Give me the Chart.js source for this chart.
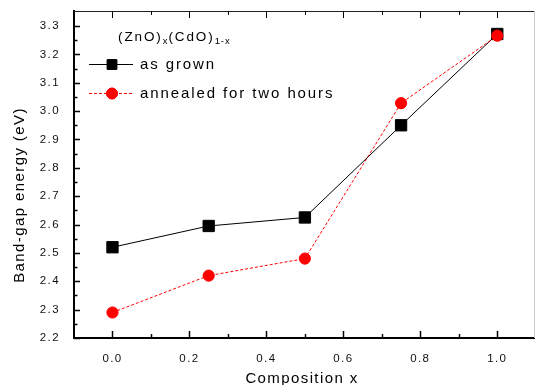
<!DOCTYPE html>
<html><head><meta charset="utf-8">
<script src="https://cdn.jsdelivr.net/npm/chart.js@4.4.1/dist/chart.umd.min.js"></script>
<style>html,body{margin:0;padding:0;background:#fff;overflow:hidden}</style>
</head><body>
<canvas id="c" width="535" height="385"></canvas>
<script>
// ---- data ----
const compositions = [0, 0.25, 0.5, 0.75, 1.0];
const asGrown = [2.52, 2.595, 2.625, 2.95, 3.272];
const annealed = [2.29, 2.42, 2.48, 3.028, 3.266];
const xTickValues = [0, 0.2, 0.4, 0.6, 0.8, 1.0];
const yTickValues = [2.2, 2.3, 2.4, 2.5, 2.6, 2.7, 2.8, 2.9, 3.0, 3.1, 3.2, 3.3];
const seriesNames = ['as grown', 'annealed for two hours'];
const xTitle = 'Composition x';
const yTitle = 'Band-gap energy (eV)';
const legendTitleParts = [['(ZnO)', false], ['x', true], ['(CdO)', false], ['1-x', true]];

const FONT = 'Arial, "Liberation Sans", Helvetica, sans-serif';
Chart.defaults.font.family = FONT;

const toPts = (xs, ys) => xs.map((x, i) => ({x: x, y: ys[i]}));

const decor = {
  id: 'decor',
  beforeDraw(chart) {
    chart.ctx.letterSpacing = '1.4px';
  },
  beforeDatasetsDraw(chart) {
    const ctx = chart.ctx, a = chart.chartArea;
    const xs = chart.scales.x, ys = chart.scales.y;
    ctx.save();
    ctx.strokeStyle = '#222'; ctx.lineWidth = 1;
    ctx.beginPath(); ctx.moveTo(a.left, a.top + 0.5); ctx.lineTo(a.right, a.top + 0.5); ctx.stroke();
    ctx.strokeStyle = '#ccc';
    ctx.beginPath(); ctx.moveTo(a.right - 0.5, a.top); ctx.lineTo(a.right - 0.5, a.bottom); ctx.stroke();
    ctx.strokeStyle = '#000';
    for (let i = 0; i <= 10; i++) {
      const v = i / 10;
      const px = Math.round(xs.getPixelForValue(v)) + 0.5;
      const len = (i % 2 === 0) ? 7 : 4;
      ctx.lineWidth = 1.5;
      ctx.beginPath(); ctx.moveTo(px, a.bottom); ctx.lineTo(px, a.bottom - len); ctx.stroke();
      ctx.lineWidth = 1;
      ctx.beginPath(); ctx.moveTo(px, a.top); ctx.lineTo(px, a.top + len); ctx.stroke();
    }
    ctx.lineWidth = 1.5;
    for (let i = 0; i <= 22; i++) {
      const v = 2.2 + i * 0.05;
      const py = Math.round(ys.getPixelForValue(v)) + 0.5;
      const len = (i % 2 === 0) ? 6 : 3.5;
      ctx.beginPath(); ctx.moveTo(a.left, py); ctx.lineTo(a.left + len, py); ctx.stroke();
    }
    ctx.restore();
  },
  afterDraw(chart) {
    const ctx = chart.ctx;
    const ds = chart.data.datasets;
    ctx.save();
    ctx.fillStyle = '#000';
    ctx.font = '15px ' + FONT;
    ctx.letterSpacing = '1.4px';
    ctx.textAlign = 'center';
    ctx.textBaseline = 'alphabetic';
    ctx.fillText(xTitle, 302, 382.5);
    ctx.save();
    ctx.translate(23.5, 195);
    ctx.rotate(-Math.PI / 2);
    ctx.fillText(yTitle, 0, 0);
    ctx.restore();
    ctx.textAlign = 'left';
    let x = 118;
    for (const [t, sub] of legendTitleParts) {
      ctx.font = (sub ? '9.5px ' : '13.5px ') + FONT;
      ctx.letterSpacing = sub ? '0.9px' : '1.9px';
      ctx.fillText(t, x, sub ? 43.5 : 40.8);
      x += ctx.measureText(t).width;
    }
    const rows = [64, 93];
    ctx.font = '15px ' + FONT;
    ctx.letterSpacing = '1.9px';
    rows.forEach((ry, i) => {
      const d = ds[i === 0 ? 1 : 0];
      ctx.save();
      ctx.strokeStyle = d.borderColor; ctx.lineWidth = 1;
      ctx.setLineDash(d.borderDash || []);
      ctx.beginPath(); ctx.moveTo(89, ry + 0.5); ctx.lineTo(133, ry + 0.5); ctx.stroke();
      ctx.setLineDash([]);
      Chart.helpers.drawPoint(ctx, {
        pointStyle: d.pointStyle, radius: i === 0 ? 6.7 : 5.4, rotation: 0, borderWidth: 1
      }, 112, ry + 0.5);
      ctx.fillStyle = d.pointBackgroundColor; ctx.strokeStyle = d.pointBorderColor;
      ctx.fill(); ctx.stroke();
      ctx.restore();
      ctx.fillStyle = '#000';
      ctx.fillText(seriesNames[i], 140, ry + 4.5);
    });
    ctx.restore();
  }
};

new Chart(document.getElementById('c'), {
  type: 'scatter',
  data: {
    datasets: [
      {
        label: seriesNames[1],
        data: toPts(compositions, annealed),
        showLine: true,
        borderColor: '#ff0000', borderWidth: 1, borderDash: [3, 2],
        pointStyle: 'circle', pointRadius: 5.6, pointBorderWidth: 1,
        pointBackgroundColor: '#ff0000', pointBorderColor: '#ff0000',
        order: 0
      },
      {
        label: seriesNames[0],
        data: toPts(compositions, asGrown),
        showLine: true,
        borderColor: '#000', borderWidth: 1,
        pointStyle: 'rect', pointRadius: 8, pointBorderWidth: 1,
        pointBackgroundColor: '#000', pointBorderColor: '#000',
        order: 1
      }
    ]
  },
  options: {
    responsive: false, animation: false, devicePixelRatio: 1,
    layout: { autoPadding: false, padding: { top: 11, right: 0, left: 0, bottom: 0 } },
    plugins: { legend: { display: false }, tooltip: { enabled: false } },
    scales: {
      x: {
        type: 'linear', min: -0.1, max: 1.098,
        afterBuildTicks: s => { s.ticks = xTickValues.map(v => ({value: v})); },
        afterFit: s => { s.height = 47; s.paddingLeft = 0; s.paddingRight = 0; },
        ticks: { callback: v => Number(v).toFixed(1), font: { size: 11.5 }, color: '#111', padding: 6, maxRotation: 0, autoSkip: false },
        grid: { display: false },
        border: { display: true, color: '#000', width: 2 }
      },
      y: {
        type: 'linear', min: 2.2, max: 3.353,
        afterBuildTicks: s => { s.ticks = yTickValues.map(v => ({value: v})); },
        afterFit: s => { s.width = 74; s.paddingTop = 0; s.paddingBottom = 0; },
        ticks: { callback: v => Number(v).toFixed(1), font: { size: 11.5 }, color: '#111', padding: 6, autoSkip: false },
        grid: { display: false },
        border: { display: true, color: '#000', width: 2 }
      }
    }
  },
  plugins: [decor]
});
</script>
</body></html>
